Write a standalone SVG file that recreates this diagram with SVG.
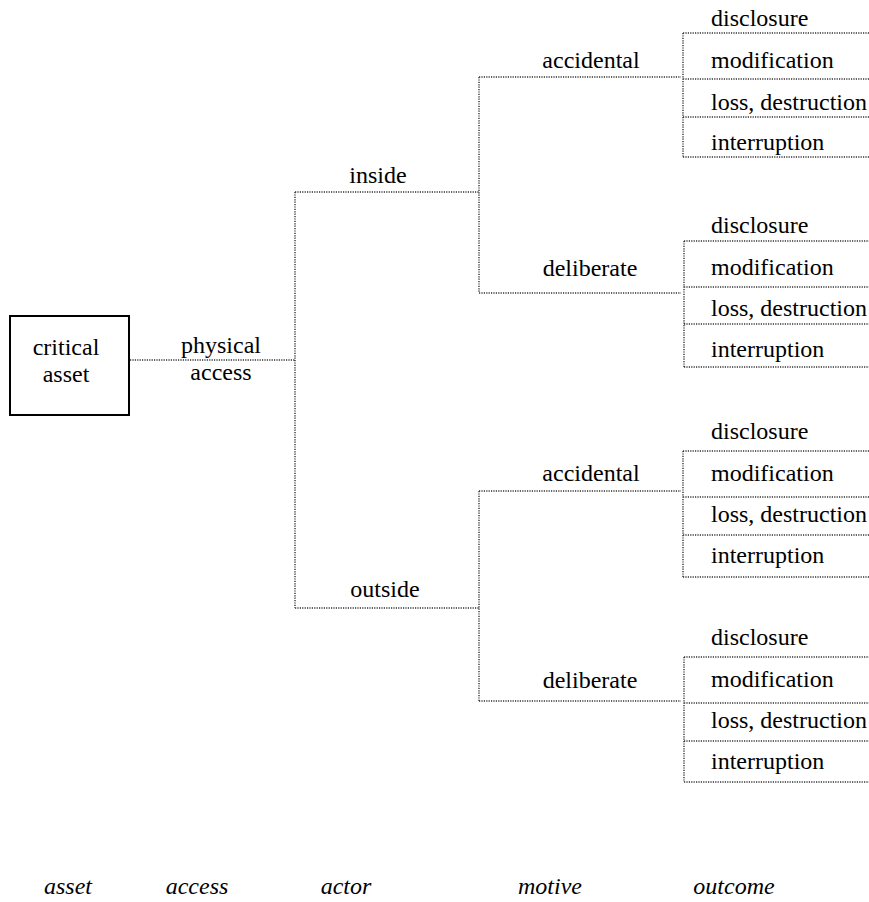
<svg xmlns="http://www.w3.org/2000/svg" width="869" height="902" viewBox="0 0 869 902">
<rect width="869" height="902" fill="#fff"/>
<g id="connectors" stroke="#333" stroke-width="1.4" stroke-dasharray="1.2 1.2" fill="none">
<path d="M130 360H295M295 192V608M295 192H479M295 608H479"/>
<path d="M479 77V293M479 77H681M479 293H681M479 491V701M479 491H681M479 701H681"/>
<path d="M683 33V157M683 33H869M683 79H869M683 117H869M683 157H869"/>
<path d="M684 241V367M684 241H869M684 287H869M684 324H869M684 367H869"/>
<path d="M683 451V577M683 451H869M683 497H869M683 535H869M683 577H869"/>
<path d="M684 657V782M684 657H869M684 703H869M684 741H869M684 782H869"/>
</g>
<rect x="10" y="316" width="119" height="99" fill="#fff" stroke="#000" stroke-width="2"/>
<text id="asset" font-family="Times New Roman" font-size="24" text-anchor="middle" x="66" y="355">critical<tspan x="66" y="382">asset</tspan></text>
<text id="access" font-family="Times New Roman" font-size="24" text-anchor="middle" x="221" y="353">physical<tspan x="221" y="380">access</tspan></text>
<text id="inside" font-family="Times New Roman" font-size="24" text-anchor="middle" x="378" y="183">inside</text>
<text id="outside" font-family="Times New Roman" font-size="24" text-anchor="middle" x="385" y="597">outside</text>
<text id="inside-accidental" font-family="Times New Roman" font-size="24" text-anchor="middle" x="591" y="68">accidental</text>
<text id="inside-deliberate" font-family="Times New Roman" font-size="24" text-anchor="middle" x="590" y="276">deliberate</text>
<text id="outside-accidental" font-family="Times New Roman" font-size="24" text-anchor="middle" x="591" y="481">accidental</text>
<text id="outside-deliberate" font-family="Times New Roman" font-size="24" text-anchor="middle" x="590" y="688">deliberate</text>
<text font-family="Times New Roman" font-size="24" x="711" y="26">disclosure</text>
<text font-family="Times New Roman" font-size="24" x="711" y="68">modification</text>
<text font-family="Times New Roman" font-size="24" x="711" y="110">loss, destruction</text>
<text font-family="Times New Roman" font-size="24" x="711" y="150">interruption</text>
<text font-family="Times New Roman" font-size="24" x="711" y="233">disclosure</text>
<text font-family="Times New Roman" font-size="24" x="711" y="275">modification</text>
<text font-family="Times New Roman" font-size="24" x="711" y="316">loss, destruction</text>
<text font-family="Times New Roman" font-size="24" x="711" y="357">interruption</text>
<text font-family="Times New Roman" font-size="24" x="711" y="439">disclosure</text>
<text font-family="Times New Roman" font-size="24" x="711" y="481">modification</text>
<text font-family="Times New Roman" font-size="24" x="711" y="522">loss, destruction</text>
<text font-family="Times New Roman" font-size="24" x="711" y="563">interruption</text>
<text font-family="Times New Roman" font-size="24" x="711" y="645">disclosure</text>
<text font-family="Times New Roman" font-size="24" x="711" y="687">modification</text>
<text font-family="Times New Roman" font-size="24" x="711" y="728">loss, destruction</text>
<text font-family="Times New Roman" font-size="24" x="711" y="769">interruption</text>
<text font-family="Times New Roman" font-size="24" font-style="italic" text-anchor="middle" x="68" y="894">asset</text>
<text font-family="Times New Roman" font-size="24" font-style="italic" text-anchor="middle" x="197" y="894">access</text>
<text font-family="Times New Roman" font-size="24" font-style="italic" text-anchor="middle" x="346" y="894">actor</text>
<text font-family="Times New Roman" font-size="24" font-style="italic" text-anchor="middle" x="550" y="894">motive</text>
<text font-family="Times New Roman" font-size="24" font-style="italic" text-anchor="middle" x="734" y="894">outcome</text>
</svg>
